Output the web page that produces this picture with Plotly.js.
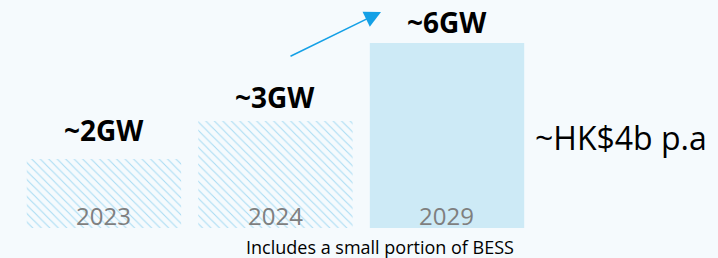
<!DOCTYPE html>
<html>
<head>
<meta charset="utf-8">
<script src="https://cdn.plot.ly/plotly-3.0.1.min.js"></script>
<style>html,body{margin:0;padding:0;background:#f5fafd;}#chart{width:718px;height:258px;}</style>
</head>
<body>
<div id="chart"></div>
<script>
// Data
const years = ["2023", "2024", "2029"];
const capacity = [2.24, 3.47, 6.0];          // bar heights as drawn
const capacityLabels = ["~2GW", "~3GW", "~6GW"];
const sideNote = "~HK$4b p.a";
const footNote = "Includes a small portion of BESS";

// Styles
const hatchFg = "#a9dcf3", pageBg = "#f5fafd", solid = "#cdeaf6";
const shapes = ["\\", "\\", ""];
const fg = [hatchFg, hatchFg, solid];
const bg = [pageBg, pageBg, solid];
const labelY = [0.43, 0.575, 0.905];
const font = "Open Sans, sans-serif";

const trace = {
  type: "bar",
  x: years,
  y: capacity,
  width: 0.9,
  marker: {
    color: fg,
    line: {width: 0},
    pattern: {shape: shapes, fgcolor: fg, bgcolor: bg, size: 6, solidity: 0.18}
  },
  hoverinfo: "skip"
};

const annotations = [];
years.forEach((yr, i) => {
  annotations.push({x: i, xref: "x", y: 0.053, yref: "paper", text: yr, showarrow: false,
    xanchor: "center", yanchor: "middle", font: {family: font, size: 24, color: "#7f7f7f"}});
  annotations.push({x: i, xref: "x", y: labelY[i], yref: "paper", text: "<b>" + capacityLabels[i] + "</b>",
    showarrow: false, xanchor: "center", yanchor: "middle", font: {family: font, size: 28, color: "#000000"}});
});
annotations.push({x: 0.742, xref: "paper", y: 0.395, yref: "paper", text: sideNote, showarrow: false,
  xanchor: "left", yanchor: "middle", font: {family: font, size: 32, color: "#000000"}});
annotations.push({x: 0.529, xref: "paper", y: -0.082, yref: "paper", text: footNote, showarrow: false,
  xanchor: "center", yanchor: "middle", font: {family: font, size: 18, color: "#000000"}});
// growth arrow
annotations.push({x: 381 / 718, xref: "paper", y: (228 - 12) / 228, yref: "paper", text: "",
  showarrow: true, ax: -92, ay: 45, arrowhead: 2, arrowsize: 2.2, arrowwidth: 1.5,
  arrowcolor: "#14a0e6", standoff: 0});

const layout = {
  width: 718, height: 258,
  margin: {l: 0, r: 0, t: 0, b: 30},
  paper_bgcolor: pageBg, plot_bgcolor: pageBg,
  showlegend: false,
  bargap: 0.1,
  xaxis: {type: "category", range: [-0.606, 3.58], showgrid: false, zeroline: false,
    showticklabels: false, showline: false, ticks: "", fixedrange: true},
  yaxis: {range: [0, 7.39], showgrid: false, zeroline: false, showticklabels: false,
    showline: false, ticks: "", fixedrange: true},
  annotations: annotations
};

Plotly.newPlot("chart", [trace], layout, {displayModeBar: false, staticPlot: true});
</script>
</body>
</html>
